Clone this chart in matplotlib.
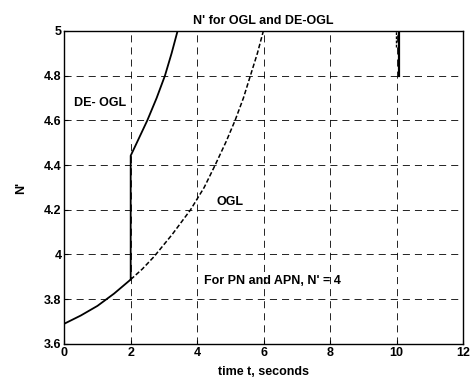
import matplotlib
matplotlib.use("Agg")
import matplotlib.pyplot as plt

plt.rcParams['font.family'] = ['Liberation Sans', 'DejaVu Sans']
plt.rcParams['font.weight'] = 'bold'

# Common segment (before switch), solid
t_common = [0.0, 0.5, 1.0, 1.5, 2.0]
n_common = [3.69, 3.727, 3.770, 3.825, 3.888]
# DE-OGL after switch, solid
t_deogl = [2.0, 2.0, 2.2, 2.5, 2.78, 3.03, 3.23, 3.41]
n_deogl = [3.888, 4.442, 4.505, 4.60, 4.70, 4.80, 4.90, 5.0]
# OGL continuation, dashed
t_ogl = [2.0, 2.35, 2.7, 3.25, 3.8, 4.21, 4.54, 4.87, 5.14, 5.39, 5.6, 5.81, 5.99]
n_ogl = [3.888, 3.935, 3.99, 4.09, 4.2, 4.3, 4.4, 4.505, 4.6, 4.7, 4.8, 4.9, 5.0]
# end segment near t=10
t_end = [10.07, 10.07]
n_end = [4.8, 5.0]
t_end2 = [9.99, 9.99]
n_end2 = [4.93, 5.0]

FS = 9

fig = plt.figure(figsize=(4.72, 3.87), dpi=100)
ax = fig.add_axes([0.136, 0.1114, 0.8453, 0.8085])
ax.plot(t_common, n_common, color='black', lw=1.3, solid_joinstyle='round')
ax.plot(t_deogl, n_deogl, color='black', lw=1.3, solid_joinstyle='round')
ax.plot(t_ogl, n_ogl, color='black', lw=1.1, ls=(0, (3, 1.5)))
ax.plot(t_end, n_end, color='black', lw=1.6)
ax.plot(t_end2, n_end2, color='black', lw=1.0, ls=(0, (2, 1)))

ax.set_xlim(0, 12)
ax.set_ylim(3.6, 5)
ax.set_xticks([0, 2, 4, 6, 8, 10, 12])
ax.set_xticklabels(['0', '2', '4', '6', '8', '10', '12'])
ax.set_yticks([3.6, 3.8, 4.0, 4.2, 4.4, 4.6, 4.8, 5.0])
ax.set_yticklabels(['3.6', '3.8', '4', '4.2', '4.4', '4.6', '4.8', '5'])
ax.grid(True, color='black', ls=(0, (8.5, 6)), lw=0.6)
ax.tick_params(direction='in', length=3, labelsize=FS, pad=2)
for s in ax.spines.values():
    s.set_linewidth(1.0)

ax.set_title("N' for OGL and DE-OGL", fontsize=FS, fontweight='bold', pad=5)
ax.set_xlabel("time t, seconds", fontsize=FS, fontweight='bold', labelpad=5)
ax.set_ylabel("N'", fontsize=FS, fontweight='bold', labelpad=12)

ax.text(0.29, 4.68, "DE- OGL", fontsize=FS, fontweight='bold', va='center')
ax.text(4.59, 4.234, "OGL", fontsize=FS, fontweight='bold', va='center')
ax.text(4.21, 3.88, "For PN and APN, N' = 4", fontsize=FS, fontweight='bold', va='center')

fig.savefig("out.png", dpi=100)
